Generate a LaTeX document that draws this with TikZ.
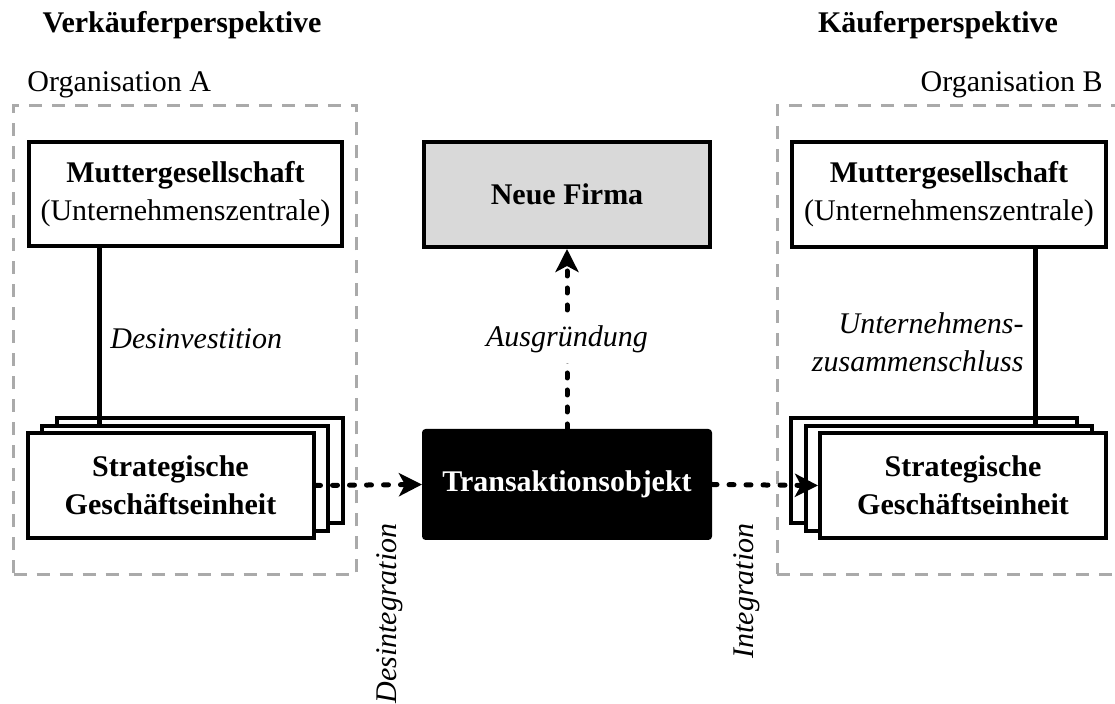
\documentclass[tikz,border=0pt]{standalone}
\usepackage{fontspec}
\setmainfont{Liberation Serif}
\usetikzlibrary{arrows.meta}
\definecolor{framegray}{RGB}{170,170,170}
\definecolor{newgray}{RGB}{217,217,217}
\begin{document}
\begin{tikzpicture}[x=0.5pt,y=-0.5pt,
  every node/.style={font=\fontsize{15pt}{19pt}\selectfont, inner sep=0pt},
  hdr/.style={font=\fontsize{15pt}{19pt}\selectfont\bfseries},
  lbl/.style={font=\fontsize{15pt}{19pt}\selectfont\itshape},
  box/.style={draw, line width=2pt, fill=white, minimum width=143pt,
    minimum height=52.5pt, align=center},
  orgframe/.style={draw=framegray, line width=1.5pt, dash pattern=on 6.5pt off 5pt,
    minimum height=234.5pt},
  link/.style={line width=2.5pt},
  flow/.style={line width=2.5pt, line cap=round, dash pattern=on 2.5pt off 6pt,
    -{Stealth[length=11.5pt,width=11.5pt,inset=3pt]}}
]
\useasboundingbox (0,0) rectangle (1115,704);

% perspective headings
\node[hdr, anchor=base] (tSeller) at (182,33) {Verkäuferperspektive};
\node[hdr, anchor=base] (tBuyer) at (938,33) {Käuferperspektive};

% organisation frames
\node[orgframe, minimum width=171.5pt] (orgA) at (185,340) {};
\node[orgframe, minimum width=176.5pt] (orgB) at (953.5,340) {};
\node[anchor=base west] (nameA) at (27,92) {Organisation A};
\node[anchor=base east] (nameB) at (1103,92) {Organisation B};

% parent companies
\node[box, minimum width=156.5pt, minimum height=52pt] (mutA) at (185.5,194)
  {\textbf{Muttergesellschaft}\\(Unternehmenszentrale)};
\node[box, minimum width=157pt, minimum height=52.5pt] (mutB) at (949,194.5)
  {\textbf{Muttergesellschaft}\\(Unternehmenszentrale)};

% new company and transaction object
\node[box, fill=newgray] (firma) at (567,194.5) {\textbf{Neue Firma}};
\node[box, fill=black, rounded corners=1pt, minimum width=143pt, minimum height=53.5pt,
  text=white] (trans) at (567,484.5) {\textbf{Transaktionsobjekt}};

% business unit stacks: back and middle layers
\node[box] (sgeAb) at (199.5,471) {};
\node[box] (sgeBb) at (934,471) {};
\node[box] (sgeAm) at (185,478.5) {};
\node[box] (sgeBm) at (948.5,478.5) {};

% ownership links
\coordinate (xA) at (99,0);
\coordinate (xB) at (1035,0);
\draw[link] (mutA.south -| xA) -- (sgeAm.north -| xA);
\draw[link] (mutB.south -| xB) -- (sgeBm.north -| xB);

% business unit stacks: front layers
\node[box] (sgeA) at (170.5,485.5) {\textbf{Strategische}\\\textbf{Geschäftseinheit}};
\node[box] (sgeB) at (963,485.5) {\textbf{Strategische}\\\textbf{Geschäftseinheit}};

% link labels
\node[lbl, anchor=base west] (lDesinv) at (110,349) {Desinvestition};
\node[lbl, anchor=east, align=right] (lMerge) at (1024,342)
  {Unternehmens-\\zusammenschluss};

% transaction flows
\draw[flow] (sgeA.east) -- (trans.west);
\draw[flow] (trans.east) -- (sgeB.west);
\draw[flow] (trans.north) -- (firma.south)
  node[lbl, midway, fill=white, inner sep=5pt] (lSpin) {Ausgründung};

% rotated flow labels
\node[lbl, rotate=90, anchor=east] (lDesint) at (390,523) {Desintegration};
\node[lbl, rotate=90, anchor=east] (lInt) at (747,523) {Integration};
\end{tikzpicture}
\end{document}
